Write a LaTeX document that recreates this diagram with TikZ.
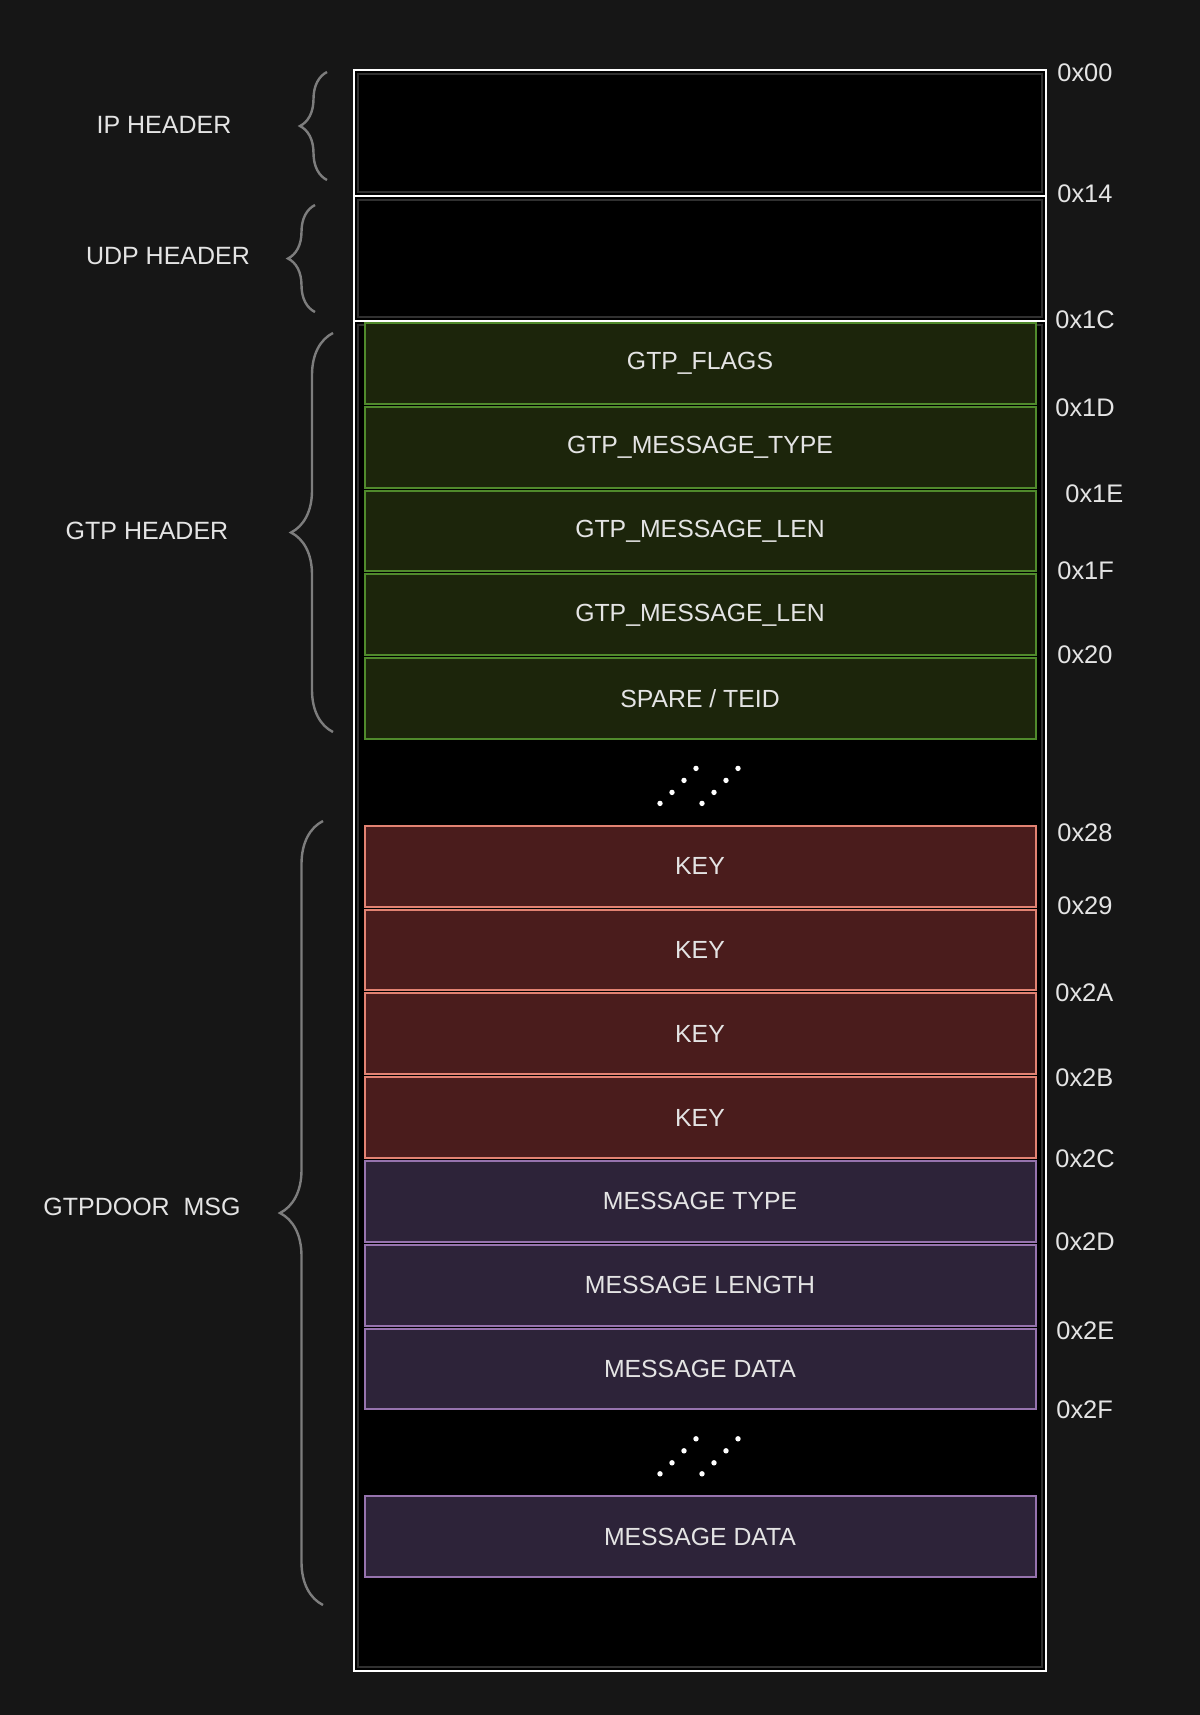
\documentclass[tikz,border=0pt]{standalone}
\usepackage{fontspec}
\setmainfont{Liberation Sans}
\usepackage{tikz}
\usetikzlibrary{positioning,decorations.pathreplacing}
\definecolor{canvas}{RGB}{22,22,22}
\definecolor{labelgray}{RGB}{228,228,228}
\definecolor{bracegray}{RGB}{125,125,125}
\definecolor{innergray}{RGB}{48,48,48}
\definecolor{gtpfill}{RGB}{28,37,11}
\definecolor{gtpedge}{RGB}{80,138,44}
\definecolor{keyfill}{RGB}{74,28,28}
\definecolor{keyedge}{RGB}{226,130,114}
\definecolor{msgfill}{RGB}{45,35,57}
\definecolor{msgedge}{RGB}{150,115,174}
\newcommand{\fieldsize}{\fontsize{12.4pt}{14pt}\selectfont}
\newcommand{\addrsize}{\fontsize{12.7pt}{14pt}\selectfont}
\newcommand{\partsize}{\fontsize{12.5pt}{14pt}\selectfont}

\begin{document}
\begin{tikzpicture}[x=0.5pt, y=-0.5pt, node distance=1.5pt, framebox/.style={draw=white, fill=black, line width=1.3pt, minimum width=346pt, outer sep=0pt, inner sep=0pt}, innerline/.style={draw=innergray, line width=0.6pt}, field/.style={minimum width=335.5pt, minimum height=40.4pt, outer sep=0pt, inner sep=0pt, line width=1pt, text=labelgray, font=\fieldsize}, gtpfield/.style={field, draw=gtpedge, fill=gtpfill}, keyfield/.style={field, draw=keyedge, fill=keyfill}, msgfield/.style={field, draw=msgedge, fill=msgfill}, addr/.style={anchor=west, inner sep=0pt, text=labelgray, font=\addrsize}, partlabel/.style={inner sep=0pt, text=labelgray, font=\partsize}, hbrace/.style={draw=bracegray, line width=1.2pt, decorate, decoration={brace, amplitude=#1}}, skipdot/.style={fill=white}]
\fill[canvas] (0,0) rectangle (1200,1715);
\useasboundingbox (0,0) rectangle (1200,1715);
% frame
\node[framebox, minimum height=63pt, anchor=north west] (ip) at (354,70) {};
\node[framebox, minimum height=62.5pt, below=0pt of ip] (udp) {};
\node[framebox, minimum height=675pt, below=0pt of udp] (payload) {};
\draw[innerline] ([shift={(4,4)}]ip.north west) rectangle ([shift={(-4,-4)}]ip.south east);
\draw[innerline] ([shift={(4,4)}]udp.north west) rectangle ([shift={(-4,-4)}]udp.south east);
\draw[innerline] ([shift={(4,4)}]payload.north west) rectangle ([shift={(-4,-4)}]payload.south east);
% GTP header
\node[gtpfield, below=1pt of payload.north] (flags) {GTP\_FLAGS};
\node[gtpfield, below=of flags]   (msgtype) {GTP\_MESSAGE\_TYPE};
\node[gtpfield, below=of msgtype] (msglen1) {GTP\_MESSAGE\_LEN};
\node[gtpfield, below=of msglen1] (msglen2) {GTP\_MESSAGE\_LEN};
\node[gtpfield, below=of msglen2] (teid)    {SPARE / TEID};
\node[field, below=of teid] (skipa) {};
% GTPDOOR message
\node[keyfield, below=of skipa] (key1) {KEY};
\node[keyfield, below=of key1]  (key2) {KEY};
\node[keyfield, below=of key2]  (key3) {KEY};
\node[keyfield, below=of key3]  (key4) {KEY};
\node[msgfield, below=of key4]  (mtype)  {MESSAGE TYPE};
\node[msgfield, below=of mtype] (mlen)   {MESSAGE LENGTH};
\node[msgfield, below=of mlen]  (mdata)  {MESSAGE DATA};
\node[field, below=of mdata] (skipb) {};
\node[msgfield, below=of skipb] (mdatan) {MESSAGE DATA};
\foreach \dx/\dy in {-40/21,-28/10,-16/-2,-4/-14,2/21,14/10,26/-2,38/-14}{
  \fill[skipdot] ([shift={(\dx,\dy)}]skipa.center) circle (1.35pt);
  \fill[skipdot] ([shift={(\dx,\dy)}]skipb.center) circle (1.35pt);
}
% offsets
\node[addr] (a00) at (1057,73)   {0x00};
\node[addr] (a14) at (1057,194)  {0x14};
\node[addr] (a1c) at (1055,320)  {0x1C};
\node[addr] (a1d) at (1055,408)  {0x1D};
\node[addr] (a1e) at (1065,494)  {0x1E};
\node[addr] (a1f) at (1057,571)  {0x1F};
\node[addr] (a20) at (1057,655)  {0x20};
\node[addr] (a28) at (1057,833)  {0x28};
\node[addr] (a29) at (1057,906)  {0x29};
\node[addr] (a2a) at (1055,993)  {0x2A};
\node[addr] (a2b) at (1055,1078) {0x2B};
\node[addr] (a2c) at (1055,1159) {0x2C};
\node[addr] (a2d) at (1055,1242) {0x2D};
\node[addr] (a2e) at (1056,1331) {0x2E};
\node[addr] (a2f) at (1056,1410) {0x2F};
% braces and part names
\coordinate (ipbt) at (327,72);   \coordinate (ipbb) at (327,180);
\coordinate (udpbt) at (315,205); \coordinate (udpbb) at (315,312);
\coordinate (gtpbt) at (333,333); \coordinate (gtpbb) at (333,732);
\coordinate (msgbt) at (323,821); \coordinate (msgbb) at (323,1605);
\draw[hbrace=13.5pt] (ipbb) -- (ipbt);
\draw[hbrace=13.5pt] (udpbb) -- (udpbt);
\draw[hbrace=21pt] (gtpbb) -- (gtpbt);
\draw[hbrace=21.5pt] (msgbb) -- (msgbt);
\node[partlabel] (iplbl)  at (164,125)  {IP HEADER};
\node[partlabel] (udplbl) at (168,256)  {UDP HEADER};
\node[partlabel] (gtplbl) at (147,531)  {GTP HEADER};
\node[partlabel] (msglbl) at (142,1207) {GTPDOOR\ \ MSG};
\end{tikzpicture}
\end{document}
